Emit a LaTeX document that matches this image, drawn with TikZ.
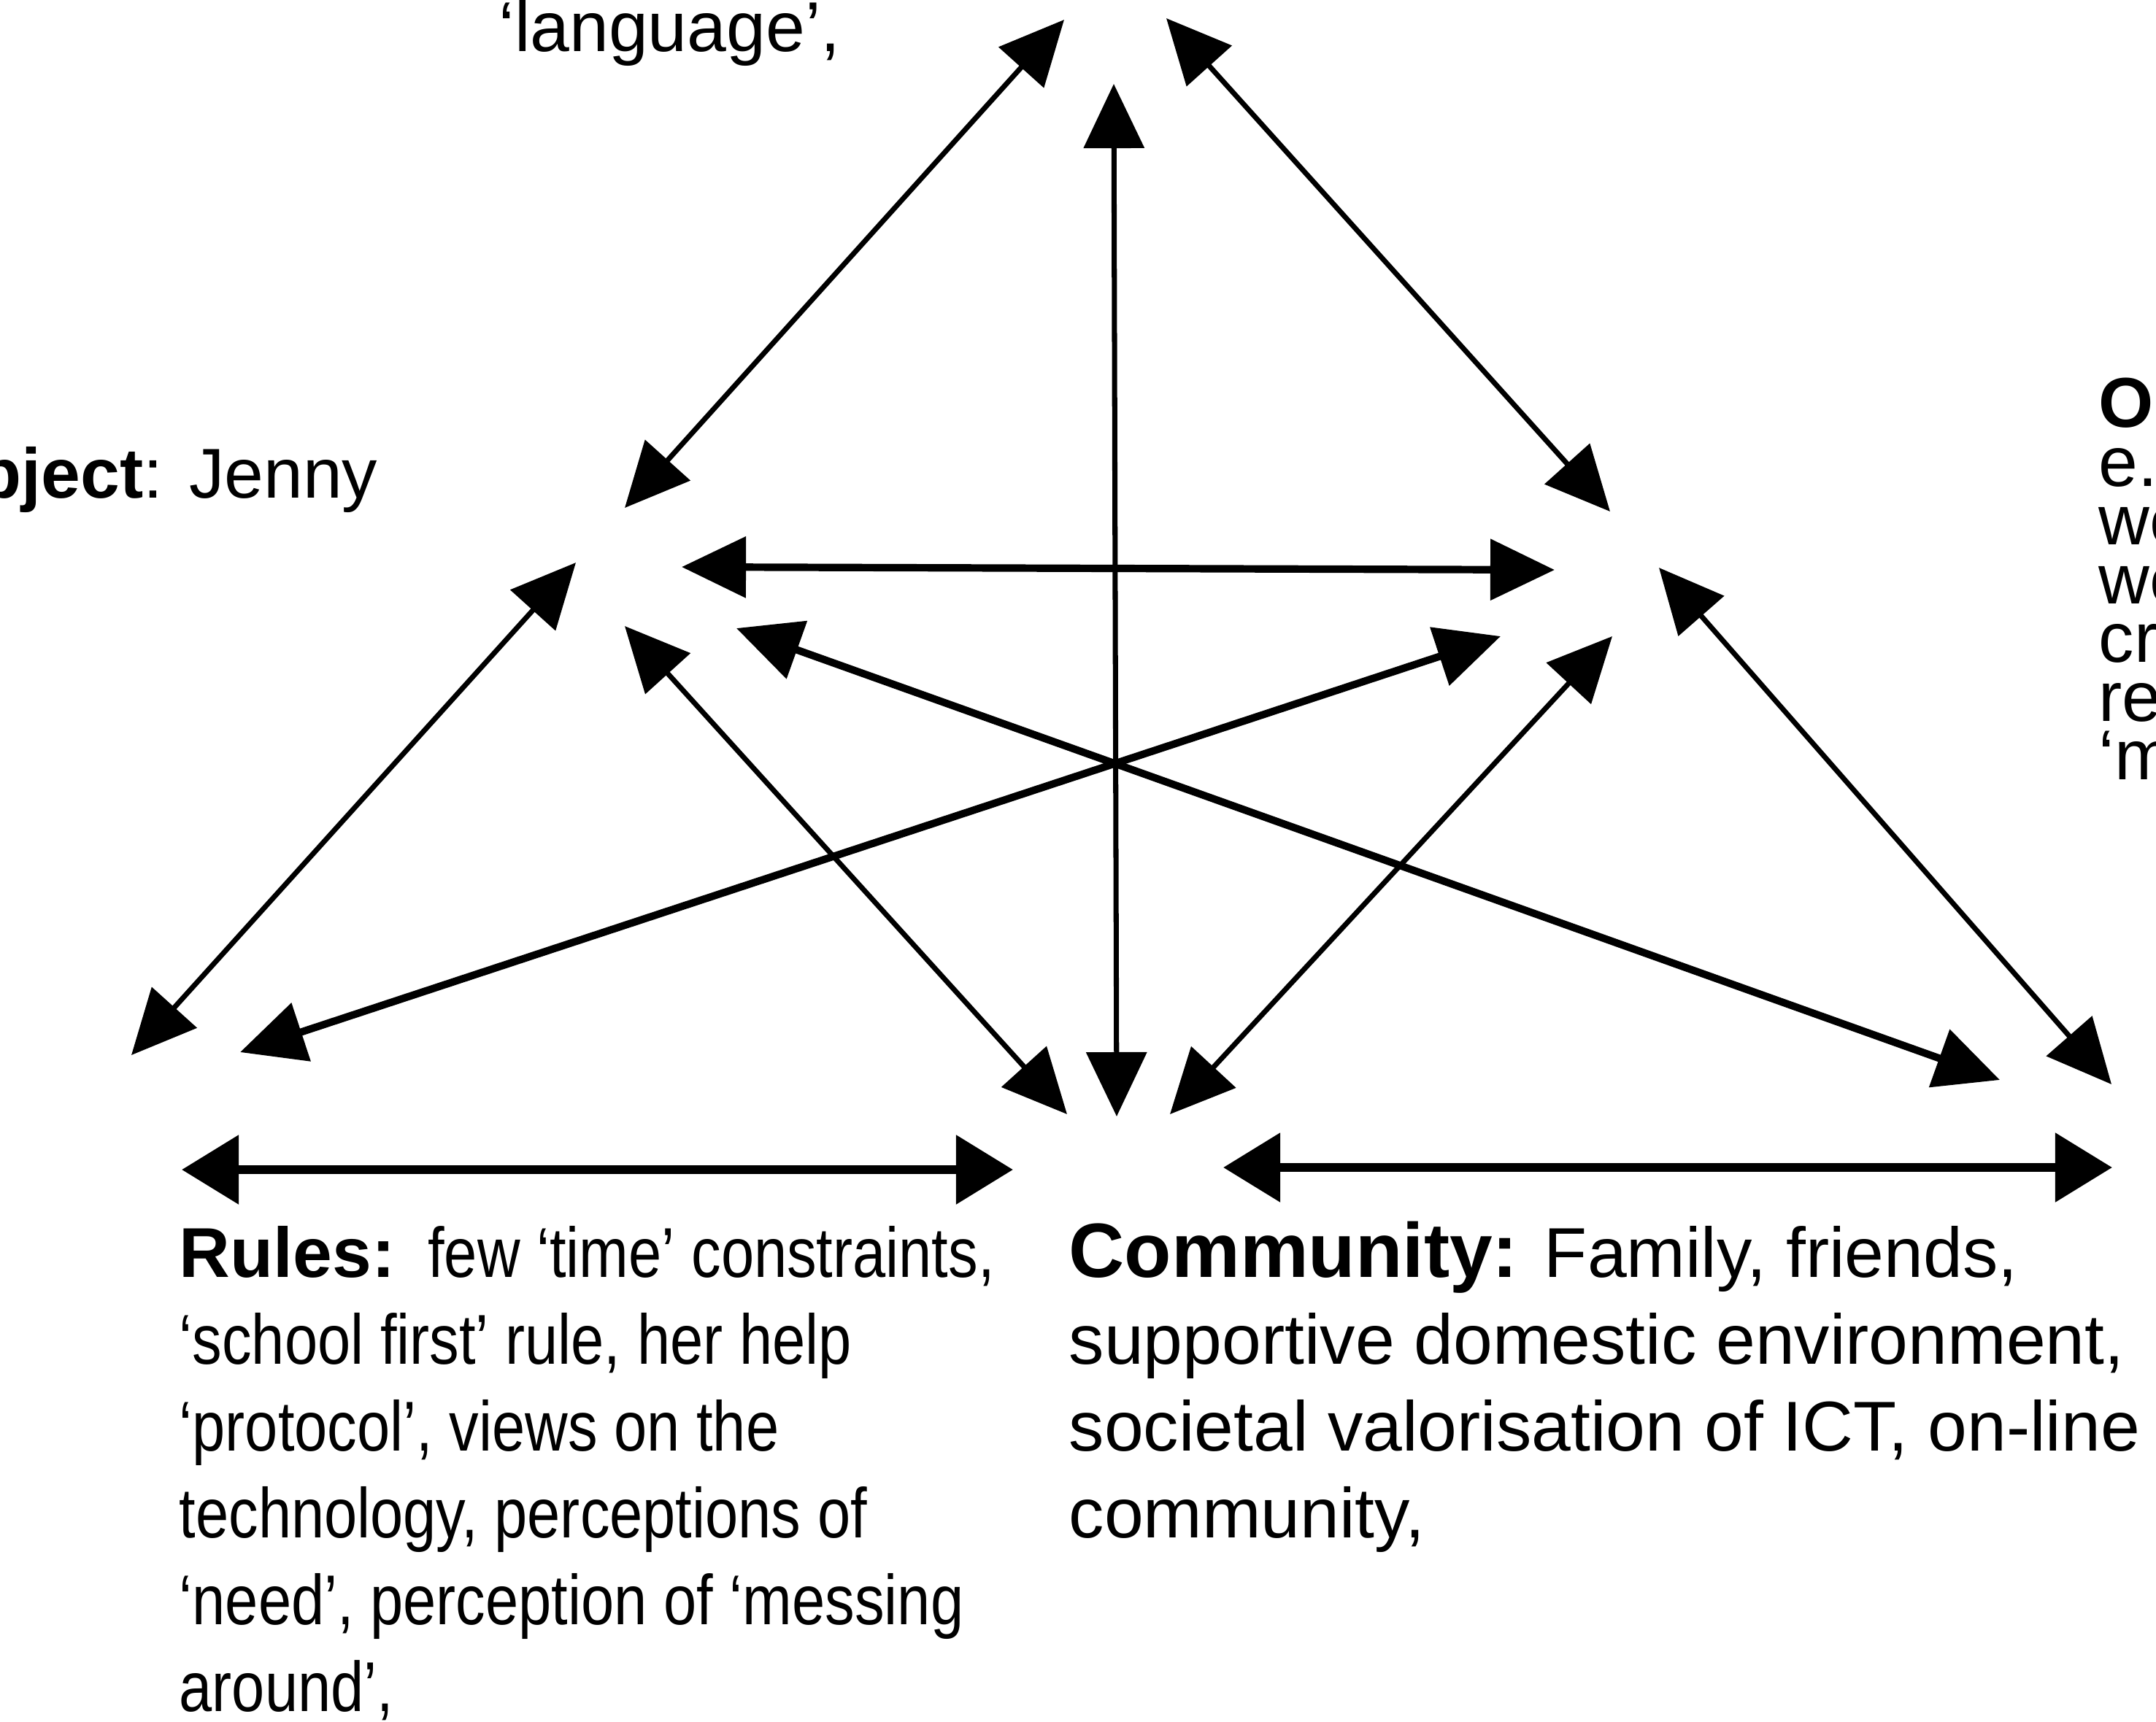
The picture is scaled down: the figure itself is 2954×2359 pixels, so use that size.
\documentclass[tikz,border=0pt]{standalone}
\usepackage{fontspec}
\setmainfont{Liberation Sans}
\newfontfamily\narrowsans[FakeStretch=0.84]{Liberation Sans}
\usetikzlibrary{arrows.meta}
\begin{document}
\begin{tikzpicture}[x=0.01cm,y=-0.01cm,
  link/.style={<->, >={Triangle[length=0.88cm,width=0.82cm]}, line width=2pt},
  heavy link/.style={link, line width=2.9pt},
  base link/.style={<->, >={Triangle[length=0.78cm,width=0.92cm]}, line width=3.6pt},
  txt/.style={inner sep=0pt, anchor=base west, font=\fontsize{27.5}{34.7}\selectfont},
  rulestxt/.style={txt, font=\fontsize{27.5}{34.7}\narrowsans},
  tight/.style={txt, text height=0.55em, text depth=0pt},
]
\useasboundingbox (0,0) rectangle (2954,2359);
\fill[white] (0,0) rectangle (2954,2359);
\clip (0,0) rectangle (2954,2359);

% corner points of the activity triangle
\coordinate (toolL) at (1458,27);
\coordinate (toolR) at (1598,25);
\coordinate (toolB) at (1526,115);
\coordinate (subjT) at (856,696);
\coordinate (subjR) at (934,777);
\coordinate (subjB) at (789,771);
\coordinate (subjD) at (856,858);
\coordinate (subjE) at (1009,861);
\coordinate (objT)  at (2206,701);
\coordinate (objL)  at (2130,781);
\coordinate (objB)  at (2056,872);
\coordinate (objD)  at (2209,872);
\coordinate (objE)  at (2273,778);
\coordinate (rulT)  at (180,1446);
\coordinate (rulR)  at (329,1442);
\coordinate (comL)  at (1462,1527);
\coordinate (comM)  at (1530,1530);
\coordinate (comR)  at (1603,1527);
\coordinate (divL)  at (2740,1480);
\coordinate (divT)  at (2893,1486);
\coordinate (rulA)  at (249,1603);
\coordinate (rulZ)  at (1388,1603);
\coordinate (comA)  at (1676,1600);
\coordinate (comZ)  at (2894,1600);

% mediating links
\draw[link] (toolL) -- (subjT);
\draw[link] (toolR) -- (objT);
\draw[link] (toolB) -- (comM);
\draw[heavy link] (subjR) -- (objL);
\draw[link] (subjB) -- (rulT);
\draw[link] (subjD) -- (comL);
\draw[heavy link] (subjE) -- (divL);
\draw[heavy link] (objB) -- (rulR);
\draw[link] (objD) -- (comR);
\draw[link] (objE) -- (divT);
\draw[base link] (rulA) -- (rulZ);
\draw[base link] (comA) -- (comZ);

% labels
\node[txt] (tool) at (683,70) {‘language’,};
\node[txt, anchor=base east] (subj) at (518,682) {\textbf{Subject}: Jenny};

\node[tight] (obj1) at (2875,585) {\textbf{O}};
\node[tight] (obj2) at (2875,666) {e.};
\node[tight] (obj3) at (2875,746) {we};
\node[tight] (obj4) at (2875,827) {we};
\node[tight] (obj5) at (2875,907) {cr};
\node[tight] (obj6) at (2875,988) {re};
\node[tight] (obj7) at (2875,1068) {‘m};

\node[rulestxt] (rul1) at (245,1750) {{\fontsize{27.5}{34.7}\rmfamily\bfseries Rules:}\ \ few ‘time’ constraints,};
\node[rulestxt] (rul2) at (245,1869) {‘school first’ rule, her help};
\node[rulestxt] (rul3) at (245,1988) {‘protocol’, views on the};
\node[rulestxt] (rul4) at (245,2107) {technology, perceptions of};
\node[rulestxt] (rul5) at (245,2226) {‘need’, perception of ‘messing};
\node[rulestxt] (rul6) at (245,2345) {around’,};

\node[txt] (com1) at (1464,1750) {{\fontsize{30}{34.7}\selectfont\bfseries Community:} Family, friends,};
\node[txt] (com2) at (1464,1869) {supportive domestic environment,};
\node[txt] (com3) at (1464,1988) {societal valorisation of ICT, on-line};
\node[txt] (com4) at (1464,2107) {community,};
\end{tikzpicture}
\end{document}
